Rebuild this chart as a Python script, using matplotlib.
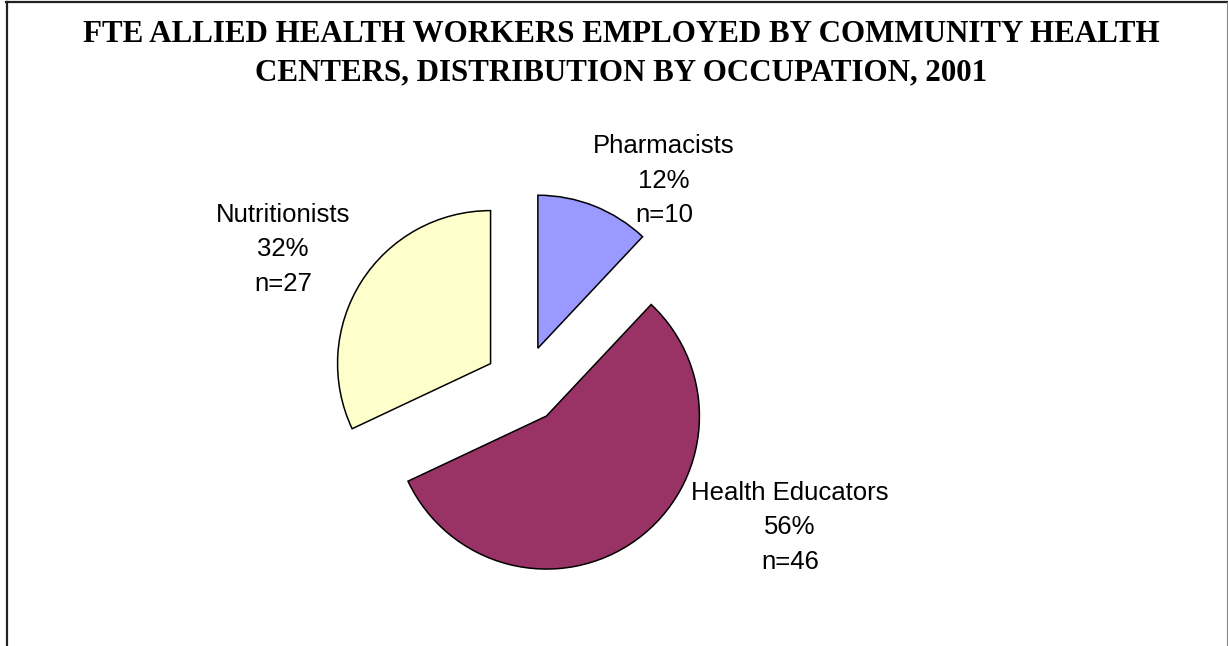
import matplotlib
matplotlib.use('Agg')
import matplotlib.pyplot as plt
from matplotlib.lines import Line2D

W, H = 1228, 646

occupations = ['Pharmacists', 'Health Educators', 'Nutritionists']
percents = [12, 56, 32]
counts = [10, 46, 27]
colors = ['#9999FF', '#993366', '#FFFFCC']

title = 'FTE ALLIED HEALTH WORKERS EMPLOYED BY COMMUNITY HEALTH\nCENTERS, DISTRIBUTION BY OCCUPATION, 2001'

# label block anchors (x centre, first baseline) in pixels from the top-left
label_pos = [(664, 153), (790, 500), (283, 222)]

fig = plt.figure(figsize=(W / 100, H / 100), dpi=100)
ax = fig.add_axes([0, 0, 1, 1])

# pie centre / radius in pixel units (y measured upward)
cx, cy, r = 523.5, H - 384.5, 153
ax.pie(percents, colors=colors, startangle=90, counterclock=False,
       center=(cx, cy), radius=r, explode=[39, 39, 39],
       wedgeprops={'edgecolor': 'black', 'linewidth': 1.1})
ax.set_xlim(0, W)
ax.set_ylim(0, H)
ax.set_aspect('equal')
ax.axis('off')

# three-line labels: name, percent, count
step = 34.5
for name, p, n, (lx, ly) in zip(occupations, percents, counts, label_pos):
    for i, line in enumerate([name, f'{p}%', f'n={n}']):
        ax.text(lx, H - (ly + i * step), line, ha='center', va='baseline',
                fontsize=18.5, family='Liberation Sans', color='black')

lines = title.split('\n')
for i, line in enumerate(lines):
    ax.text(621, H - (42 + i * 38), line, ha='center', va='baseline',
            fontsize=22.3, family='Liberation Serif', fontweight='bold')

# chart border (open at the bottom)
fig.add_artist(Line2D([6 / W, 1227 / W], [1 - 2 / H, 1 - 2 / H],
                      color='#222222', lw=1.6, transform=fig.transFigure))
fig.add_artist(Line2D([7 / W, 7 / W], [0, 1 - 2 / H],
                      color='#222222', lw=1.6, transform=fig.transFigure))
fig.add_artist(Line2D([1226.5 / W, 1226.5 / W], [0, 1 - 2 / H],
                      color='#888888', lw=0.8, transform=fig.transFigure))

fig.savefig('out.png', dpi=100, facecolor='white')
